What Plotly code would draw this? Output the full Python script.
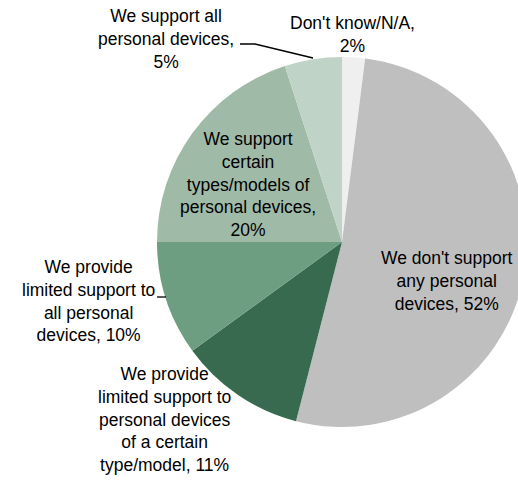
import plotly.graph_objects as go

labels = [
    "Don't know/N/A",
    "We don't support any personal devices",
    "We provide limited support to personal devices of a certain type/model",
    "We provide limited support to all personal devices",
    "We support certain types/models of personal devices",
    "We support all personal devices",
]
values = [2, 52, 11, 10, 20, 5]
colors = ["#efefef", "#bfbfbf", "#386a50", "#6d9e81", "#a0baa8", "#c0d3c7"]

label_texts = [
    "Don't know/N/A,<br>2%",
    "We don't support<br>any personal<br>devices, 52%",
    "We provide<br>limited support to<br>personal devices<br>of a certain<br>type/model, 11%",
    "We provide<br>limited support to<br>all personal<br>devices, 10%",
    "We support<br>certain<br>types/models of<br>personal devices,<br>20%",
    "We support all<br>personal devices,<br>5%",
]
# label block centers in pixels (x, y)
label_pos = [(352, 35), (447, 281), (164, 419), (88, 301), (248, 184), (166, 39)]

W, H = 536, 480

fig = go.Figure(go.Pie(
    labels=labels,
    values=values,
    sort=False,
    direction="clockwise",
    rotation=0,
    marker=dict(colors=colors, line=dict(width=0)),
    textinfo="none",
    hoverinfo="label+percent",
    showlegend=False,
    domain=dict(x=[157 / W, 527 / W], y=[1 - 427 / H, 1 - 57 / H]),
))

for t, (px, py) in zip(label_texts, label_pos):
    fig.add_annotation(
        x=px / W, y=1 - py / H, xref="paper", yref="paper",
        text=t, showarrow=False, xanchor="center", yanchor="middle",
        align="center", font=dict(family="Liberation Sans, Arial", size=17.5, color="#000000"),
    )

# leader lines
def P(px, py):
    return px / W, 1 - py / H

x0, y0 = P(240, 44); x1, y1 = P(255, 44); x2, y2 = P(313, 58)
fig.add_shape(type="path", xref="paper", yref="paper",
              path=f"M {x0},{y0} L {x1},{y1} L {x2},{y2}",
              line=dict(color="#000000", width=1.3))
a0, b0 = P(157, 297); a1, b1 = P(166, 297)
fig.add_shape(type="line", xref="paper", yref="paper", x0=a0, y0=b0, x1=a1, y1=b1,
              line=dict(color="#000000", width=1.3))

fig.update_layout(
    width=W, height=H,
    margin=dict(l=0, r=0, t=0, b=0),
    paper_bgcolor="#ffffff",
    plot_bgcolor="#ffffff",
)

fig.write_html(
    "out.html",
    config={"displayModeBar": False},
    post_script="document.body.style.margin='0';document.body.style.overflow='hidden';document.documentElement.style.overflow='hidden';",
)
